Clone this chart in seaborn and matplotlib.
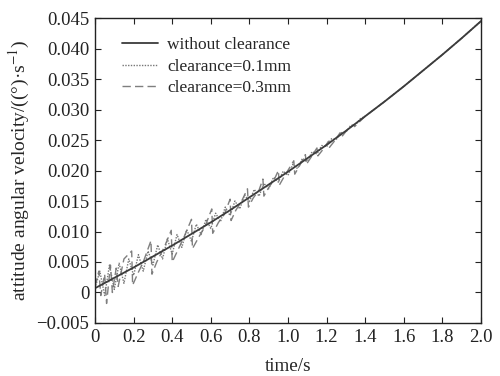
import matplotlib
matplotlib.use("Agg")
import matplotlib.pyplot as plt
import seaborn as sns
import pandas as pd

# data
t_base = [0.0, 0.1, 0.2, 0.3, 0.4, 0.5, 0.6, 0.7, 0.8, 0.9, 1.0,
          1.1, 1.2, 1.3, 1.4, 1.5, 1.6, 1.7, 1.8, 1.9, 2.0]
v_base = [0.0007, 0.0024, 0.0041, 0.0059, 0.0077, 0.0096, 0.0115, 0.0135, 0.0156, 0.0177, 0.0198,
          0.0220, 0.0242, 0.0265, 0.0289, 0.0313, 0.0338, 0.0364, 0.0390, 0.0417, 0.0445]

t_01 = [0.0, 0.025, 0.05, 0.075, 0.1, 0.125, 0.15, 0.175, 0.2, 0.225, 0.25, 0.275, 0.3,
        0.325, 0.35, 0.375, 0.4, 0.425, 0.45, 0.475, 0.5, 0.525, 0.55, 0.575, 0.6,
        0.625, 0.65, 0.675, 0.7, 0.725, 0.75, 0.775, 0.8, 0.825, 0.85, 0.875, 0.9,
        0.925, 0.95, 0.975, 1.0, 1.025, 1.05, 1.075, 1.1, 1.125, 1.15, 1.175, 1.2,
        1.225, 1.25, 1.275, 1.3, 1.325, 1.35, 1.375, 1.4, 1.5, 1.6, 1.7, 1.8, 1.9, 2.0]
v_01 = [0.0007, 0.0035, -0.0005, 0.0045, 0.0005, 0.0048, 0.0015, 0.0055, 0.0028, 0.0062, 0.0035, 0.0068, 0.0045,
        0.0078, 0.0055, 0.0088, 0.0063, 0.0095, 0.0074, 0.0103, 0.0084, 0.0112, 0.0095, 0.0120, 0.0105,
        0.0130, 0.0116, 0.0140, 0.0126, 0.0150, 0.0137, 0.0160, 0.0149, 0.0169, 0.0158, 0.0179, 0.0170,
        0.0189, 0.0181, 0.0199, 0.0192, 0.0210, 0.0203, 0.0220, 0.0215, 0.0231, 0.0227, 0.0241, 0.0239,
        0.0252, 0.0251, 0.0262, 0.0263, 0.0274, 0.0275, 0.0285, 0.0289, 0.0313, 0.0338, 0.0364, 0.0390, 0.0417, 0.0445]

t_03 = [0.0, 0.02, 0.03, 0.05, 0.06, 0.08, 0.09, 0.11, 0.12, 0.15, 0.19, 0.195, 0.22, 0.25,
        0.29, 0.295, 0.32, 0.36, 0.395, 0.40, 0.43, 0.46, 0.50, 0.505, 0.54, 0.57,
        0.605, 0.61, 0.64, 0.67, 0.70, 0.705, 0.73, 0.76, 0.79, 0.795, 0.82, 0.85,
        0.87, 0.875, 0.90, 0.93, 0.95, 0.955, 0.98, 1.03, 1.035, 1.06, 1.09, 1.095,
        1.12, 1.15, 1.155, 1.18, 1.21, 1.215, 1.24, 1.27, 1.275, 1.31, 1.34, 1.345,
        1.4, 1.5, 1.6, 1.7, 1.8, 1.9, 2.0]
v_03 = [0.0010, 0.0035, -0.0005, 0.0030, -0.0018, 0.0045, 0.0000, 0.0040, 0.0010, 0.0055, 0.0068, 0.0012, 0.0030, 0.0050,
        0.0085, 0.0030, 0.0050, 0.0075, 0.0102, 0.0050, 0.0070, 0.0090, 0.0120, 0.0072, 0.0092, 0.0108,
        0.0137, 0.0097, 0.0115, 0.0128, 0.0153, 0.0118, 0.0135, 0.0150, 0.0170, 0.0140, 0.0155, 0.0168,
        0.0186, 0.0158, 0.0172, 0.0186, 0.0200, 0.0176, 0.0190, 0.0216, 0.0194, 0.0208, 0.0226, 0.0210,
        0.0222, 0.0237, 0.0224, 0.0234, 0.0248, 0.0238, 0.0248, 0.0262, 0.0254, 0.0268, 0.0275, 0.0272,
        0.0289, 0.0313, 0.0338, 0.0364, 0.0390, 0.0417, 0.0445]

labels = ["without clearance", "clearance=0.1mm", "clearance=0.3mm"]
x_ticks = [0, 0.2, 0.4, 0.6, 0.8, 1.0, 1.2, 1.4, 1.6, 1.8, 2.0]
x_ticklabels = ["0", "0.2", "0.4", "0.6", "0.8", "1.0", "1.2", "1.4", "1.6", "1.8", "2.0"]
y_ticks = [-0.005, 0, 0.005, 0.010, 0.015, 0.020, 0.025, 0.030, 0.035, 0.040, 0.045]
y_ticklabels = ["\u22120.005", "0", "0.005", "0.010", "0.015", "0.020", "0.025",
                "0.030", "0.035", "0.040", "0.045"]

sns.set_style("ticks")
plt.rcParams["font.family"] = ["Liberation Serif", "DejaVu Serif"]
plt.rcParams["mathtext.fontset"] = "stix"

fig = plt.figure(figsize=(5.0, 3.76), dpi=100)
ax = fig.add_axes([0.19, 0.141, 0.772, 0.811])

df_base = pd.DataFrame({"t": t_base, "v": v_base})
df_01 = pd.DataFrame({"t": t_01, "v": v_01})
df_03 = pd.DataFrame({"t": t_03, "v": v_03})

# draw order: clearance curves under the main line
sns.lineplot(data=df_03, x="t", y="v", ax=ax, color="#7f7f7f", lw=1.0,
             linestyle=(0, (6, 3)), label=labels[2], sort=False, estimator=None)
sns.lineplot(data=df_01, x="t", y="v", ax=ax, color="#767676", lw=1.0,
             linestyle=(0, (1, 1)), label=labels[1], sort=False, estimator=None)
sns.lineplot(data=df_base, x="t", y="v", ax=ax, color="#3c3c3c", lw=1.3,
             label=labels[0], sort=False, estimator=None)

ax.set_xlim(0, 2.0)
ax.set_ylim(-0.005, 0.045)
ax.set_xticks(x_ticks)
ax.set_xticklabels(x_ticklabels)
ax.set_yticks(y_ticks)
ax.set_yticklabels(y_ticklabels)
ax.tick_params(direction="in", length=4, width=0.8, labelsize=13.5,
               top=True, right=True, colors="#222222", pad=4)
for s in ax.spines.values():
    s.set_linewidth(1.0)
    s.set_color("#222222")

ax.set_xlabel("time/s", fontsize=13.8, labelpad=9)
ax.set_ylabel("attitude angular velocity/((\u00b0)\u00b7s$^{-1}$)", fontsize=14, labelpad=3)

handles, labs = ax.get_legend_handles_labels()
order = [2, 1, 0]
ax.legend([handles[i] for i in order], [labs[i] for i in order], loc="upper left",
          frameon=False, fontsize=12.5, handlelength=2.1, handletextpad=0.5,
          labelspacing=0.3, borderaxespad=0.0, bbox_to_anchor=(0.052, 0.96))

fig.savefig("out.png", dpi=100)
